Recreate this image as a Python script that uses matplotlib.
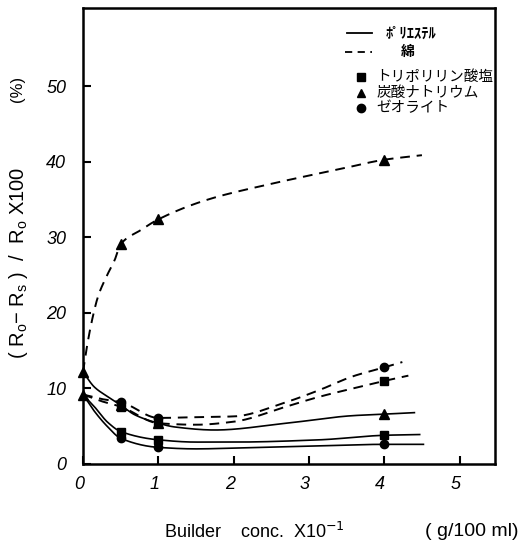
import numpy as np
import matplotlib
matplotlib.use("Agg")
import matplotlib.pyplot as plt
from matplotlib.transforms import ScaledTranslation

# ---------------- data ----------------
conc = [0.5, 1.0, 4.0]                       # measured builder concentrations
control_y = [12.2, 9.2]                      # triangles at conc = 0

# measured points (at conc)
cot_na2co3_pts = [29.1, 32.4, 40.3]          # 綿 / 炭酸ナトリウム
pol_na2co3_pts = [7.8, 5.4, 6.6]             # ポリエステル / 炭酸ナトリウム
cot_stpp_pts = [7.6, 5.4, 11.0]              # 綿 / トリポリリン酸塩
cot_zeo_pts = [8.2, 6.1, 12.8]               # 綿 / ゼオライト
pol_stpp_pts = [4.3, 3.2, 3.9]               # ポリエステル / トリポリリン酸塩
pol_zeo_pts = [3.4, 2.2, 2.7]                # ポリエステル / ゼオライト

# hand-drawn curves
cot_na2co3_cx = [0, 0.06, 0.13, 0.2, 0.31, 0.42, 0.5, 0.77, 1.0, 1.65, 2.54, 3.43, 4.0, 4.5]
cot_na2co3_cy = [12.2, 16.0, 19.5, 22.2, 24.8, 27.0, 29.1, 31.0, 32.4, 35.0, 37.2, 39.1, 40.3, 40.9]

pol_na2co3_cx = [0, 0.15, 0.33, 0.5, 0.69, 1.0, 1.22, 1.75, 2.7, 3.58, 4.0, 4.4]
pol_na2co3_cy = [12.2, 10.2, 8.9, 7.8, 6.5, 5.4, 4.9, 4.5, 5.4, 6.4, 6.6, 6.8]

cot_zeo_cx = [0, 0.25, 0.5, 1.0, 1.5, 2.0, 2.7, 3.14, 3.58, 4.0, 4.24]
cot_zeo_cy = [9.2, 8.6, 8.2, 6.1, 6.2, 6.3, 8.2, 9.8, 11.6, 12.8, 13.5]

cot_stpp_cx = [0, 0.25, 0.5, 1.0, 1.5, 2.0, 2.7, 3.1, 3.58, 4.0, 4.32]
cot_stpp_cy = [9.2, 8.3, 7.6, 5.4, 5.2, 5.6, 7.6, 8.8, 10.0, 11.0, 11.7]

pol_stpp_cx = [0, 0.15, 0.33, 0.5, 1.0, 1.5, 2.0, 3.14, 4.0, 4.47]
pol_stpp_cy = [9.2, 7.6, 5.5, 4.3, 3.2, 2.9, 2.9, 3.2, 3.8, 3.9]

pol_zeo_cx = [0, 0.15, 0.33, 0.5, 1.0, 1.5, 2.0, 3.14, 4.0, 4.52]
pol_zeo_cy = [9.2, 7.0, 4.9, 3.4, 2.2, 2.0, 2.1, 2.4, 2.6, 2.6]

x_ticks = [0, 1, 2, 3, 4, 5]
y_ticks = [0, 10, 20, 30, 40, 50]
legend_labels = ["ﾎﾟﾘｴｽﾃﾙ", "綿", "トリポリリン酸塩", "炭酸ナトリウム", "ゼオライト"]


def pchip(x, y, n=400):
    """Shape-preserving smooth line through the read points (drawing only)."""
    x = np.asarray(x, float); y = np.asarray(y, float)
    h = np.diff(x); d = np.diff(y) / h
    m = np.zeros_like(x)
    m[0], m[-1] = d[0], d[-1]
    for k in range(1, len(x) - 1):
        if d[k - 1] * d[k] <= 0:
            m[k] = 0
        else:
            w1 = 2 * h[k] + h[k - 1]; w2 = h[k] + 2 * h[k - 1]
            m[k] = (w1 + w2) / (w1 / d[k - 1] + w2 / d[k])
    xs = np.linspace(x[0], x[-1], n)
    idx = np.clip(np.searchsorted(x, xs) - 1, 0, len(x) - 2)
    t = (xs - x[idx]) / h[idx]
    h00 = 2 * t**3 - 3 * t**2 + 1; h10 = t**3 - 2 * t**2 + t
    h01 = -2 * t**3 + 3 * t**2; h11 = t**3 - t**2
    ys = h00 * y[idx] + h10 * h[idx] * m[idx] + h01 * y[idx + 1] + h11 * h[idx] * m[idx + 1]
    return xs, ys


plt.rcParams['font.family'] = ['Liberation Sans', 'DejaVu Sans']
fig = plt.figure(figsize=(5.29, 5.50), dpi=100)
ax = fig.add_axes([0.1569, 0.1564, 0.7788, 0.8291])

dash = (0, (5, 3.5))
for cx, cy, ls, lw in [
    (cot_na2co3_cx, cot_na2co3_cy, dash, 1.4),
    (cot_zeo_cx, cot_zeo_cy, dash, 1.4),
    (cot_stpp_cx, cot_stpp_cy, dash, 1.4),
    (pol_na2co3_cx, pol_na2co3_cy, '-', 1.2),
    (pol_stpp_cx, pol_stpp_cy, '-', 1.2),
    (pol_zeo_cx, pol_zeo_cy, '-', 1.2),
]:
    xs, ys = pchip(cx, cy)
    ax.plot(xs, ys, color='black', lw=lw, linestyle=ls)

ms = 7
ax.plot([0, 0], control_y, '^', color='black', ms=ms, clip_on=False)
ax.plot(conc, cot_na2co3_pts, '^', color='black', ms=ms)
ax.plot(conc, pol_na2co3_pts, '^', color='black', ms=ms)
ax.plot(conc, cot_stpp_pts, 's', color='black', ms=ms - 1)
ax.plot(conc, cot_zeo_pts, 'o', color='black', ms=ms - 1)
ax.plot(conc, pol_stpp_pts, 's', color='black', ms=ms - 1)
ax.plot(conc, pol_zeo_pts, 'o', color='black', ms=ms - 1)

ax.set_xlim(0, 5.47)
ax.set_ylim(0, 60.4)
ax.set_xticks(x_ticks)
ax.set_yticks(y_ticks)
ax.set_xticklabels([str(v) for v in x_ticks], fontstyle='italic', fontsize=13)
ax.set_yticklabels([str(v) for v in y_ticks], fontstyle='italic', fontsize=13)
ax.tick_params(axis='both', direction='in', length=6, width=1.5)
ax.tick_params(axis='y', pad=12)
ax.tick_params(axis='x', pad=9)
shift = ScaledTranslation(-4 / 100, 0, fig.dpi_scale_trans)
for lab in ax.get_xticklabels():
    lab.set_transform(lab.get_transform() + shift)
for s in ax.spines.values():
    s.set_linewidth(1.8)

# legend drawn inside the axes
jp = ['Noto Sans CJK JP', 'DejaVu Sans']
ax.plot([0.641, 0.701], [0.945, 0.945], color='black', lw=1.3, transform=ax.transAxes)
ax.text(0.735, 0.945, legend_labels[0], transform=ax.transAxes, family=jp,
        fontsize=10.5, fontweight='bold', va='center', ha='left')
ax.plot([0.636, 0.701], [0.903, 0.903], color='black', lw=1.3, linestyle=(0, (4, 3)),
        transform=ax.transAxes)
ax.text(0.772, 0.903, legend_labels[1], transform=ax.transAxes, family=jp,
        fontsize=10, fontweight='bold', va='center', ha='left')
for yy, mk, lab in [(0.848, 's', legend_labels[2]), (0.814, '^', legend_labels[3]),
                    (0.780, 'o', legend_labels[4])]:
    ax.plot([0.675], [yy], mk, color='black', ms=6, transform=ax.transAxes)
    ax.text(0.712, yy, lab, transform=ax.transAxes, family=jp, fontsize=10.5,
            va='center', ha='left')

fig.text(19 / 529, 1 - 263 / 550,
         r"( R$_\mathregular{o}$− R$_\mathregular{s}$ )  /  R$_\mathregular{o}$ X100",
         rotation=90, ha='center', va='center', fontsize=14.5)
fig.text(17 / 529, 1 - 89 / 550, "(%)", rotation=90, ha='center', va='center', fontsize=12)
fig.text(254 / 529, 1 - 532 / 550, r"Builder    conc.  X10$^{-1}$", ha='center', va='center',
         fontsize=13)
fig.text(425 / 529, 1 - 532 / 550, "( g/100 ml)", ha='left', va='center', fontsize=14)

fig.savefig("out.png", dpi=100)
